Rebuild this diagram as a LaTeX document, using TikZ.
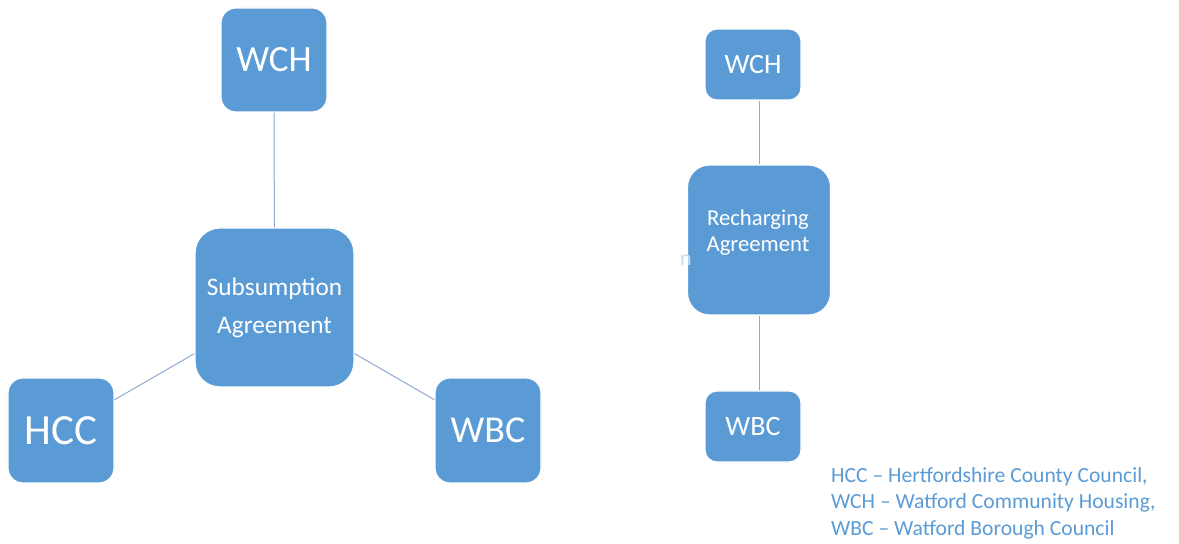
\documentclass[tikz,border=0pt]{standalone}
\usepackage{fontspec}
\setmainfont{Carlito}
\definecolor{boxblue}{HTML}{5B9BD5}
\definecolor{linkc}{HTML}{8FAACF}
\definecolor{legc}{HTML}{5B9BD5}
\tikzset{
  ubox/.style={fill=boxblue, draw=white, line width=1.2bp, text=white, inner sep=0pt, align=center},
  link/.style={draw=linkc, line width=1bp},
  legend/.style={text=legc, anchor=base west, inner sep=0pt, font=\fontsize{21.6bp}{24bp}\selectfont}
}
\begin{document}
\begin{tikzpicture}[x=1bp,y=-1bp]
\useasboundingbox (0,0) rectangle (1179,544);
% left group
\node[ubox, minimum width=106bp, minimum height=104bp, rounded corners=15bp, font=\fontsize{37bp}{40bp}\selectfont] (wchL) at (274,60) {WCH};
\node[ubox, minimum width=159bp, minimum height=159bp, rounded corners=25bp, font=\fontsize{25.3bp}{38bp}\selectfont] (sub) at (274.5,307.5) {Subsumption\\Agreement};
\node[ubox, minimum width=106bp, minimum height=105bp, rounded corners=15bp, font=\fontsize{43bp}{46bp}\selectfont] (hcc) at (61,430.5) {HCC};
\node[ubox, minimum width=106bp, minimum height=105bp, rounded corners=15bp, font=\fontsize{38bp}{40bp}\selectfont] (wbcL) at (488,430.5) {WBC};
\draw[link] (wchL) -- (sub);
\draw[link] (sub) -- (hcc);
\draw[link] (sub) -- (wbcL);
% right group
\node[ubox, minimum width=96bp, minimum height=71bp, rounded corners=12bp, font=\fontsize{28bp}{30bp}\selectfont] (wchR) at (753,64.5) {WCH};
\node[ubox, minimum width=143bp, minimum height=150bp, rounded corners=22bp] (rech) at (759,240) {};
\node[text=white, inner sep=0pt, align=center, font=\fontsize{22.7bp}{26bp}\selectfont] (rechtxt) at (758,233) {Recharging\\Agreement};
\node[ubox, minimum width=96bp, minimum height=71bp, rounded corners=12bp, font=\fontsize{28bp}{30bp}\selectfont] (wbcR) at (753,426.5) {WBC};
\draw[link] (rech.north) -- (rech.north |- wchR.south);
\draw[link] (rech.south) -- (rech.south |- wbcR.north);
\node[text=boxblue!35, inner sep=0pt, anchor=base east, font=\fontsize{22bp}{26bp}\selectfont] (stray) at (692,266) {n};
% legend
\node[legend] (leg1) at (831,482) {HCC – Hertfordshire County Council,};
\node[legend] (leg2) at (831,508.5) {WCH – Watford Community Housing,};
\node[legend] (leg3) at (831,535) {WBC – Watford Borough Council};
\end{tikzpicture}
\end{document}
